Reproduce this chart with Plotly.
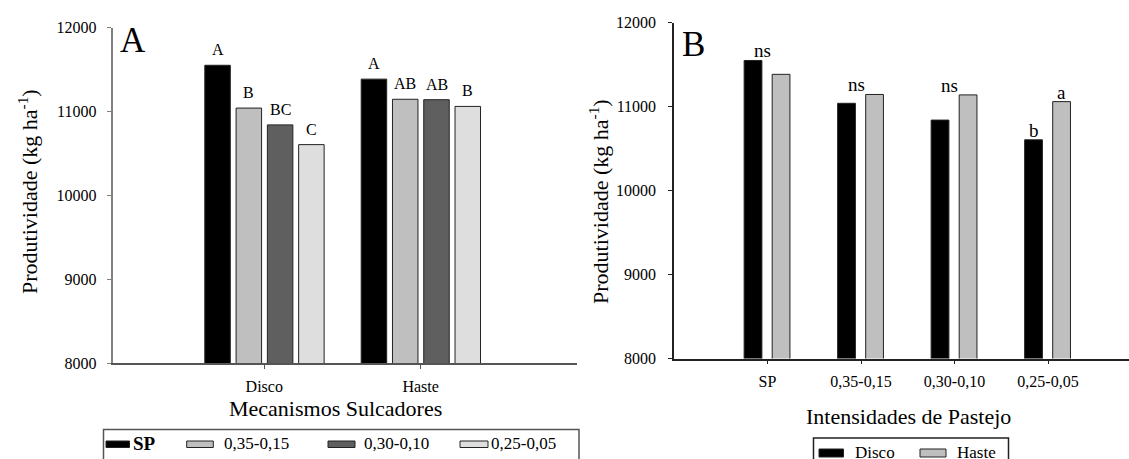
import plotly.graph_objects as go

# ---------------- data ----------------
mechanisms = ["Disco", "Haste"]
intensities = ["SP", "0,35-0,15", "0,30-0,10", "0,25-0,05"]

# yield (kg/ha) per mechanism, ordered by intensity
disco_vals = [11550, 11040, 10840, 10605]
haste_vals = [11385, 11145, 11140, 11060]

# panel A letters (per mechanism, per intensity)
letters_disco = ["A", "B", "BC", "C"]
letters_haste = ["A", "AB", "AB", "B"]

# panel B letters
ns_labels = ["ns", "ns", "ns", ""]
letters_b_disco = ["", "", "", "b"]
letters_b_haste = ["", "", "", "a"]

y_ticks = [8000, 9000, 10000, 11000, 12000]

# ---------------- style ----------------
W, H = 1129, 459
FONT = "Liberation Serif, Times New Roman, serif"
int_colors = ["#000000", "#bfbfbf", "#5f5f5f", "#dedede"]
mech_colors = ["#000000", "#bfbfbf"]
OUTLINE = "#222222"


def px(xp):
    return xp / W


def py(yp):
    return 1 - yp / H


def paper_text(x, y, text, size, **kw):
    d = dict(x=px(x), y=py(y), xref="paper", yref="paper", text=text,
             showarrow=False, xanchor="center", yanchor="middle",
             font=dict(family=FONT, size=size, color="black"))
    d.update(kw)
    return d


fig = go.Figure()

# ---- panel A: x = mechanism, series = intensity ----
a_width = 0.163
a_offsets = [-0.38, -0.18, 0.02, 0.22]
by_intensity = [[disco_vals[i], haste_vals[i]] for i in range(len(intensities))]
for i, name in enumerate(intensities):
    fig.add_trace(go.Bar(
        x=mechanisms, y=by_intensity[i], name=name,
        marker=dict(color=int_colors[i], line=dict(color=OUTLINE, width=1)),
        width=a_width, offset=a_offsets[i],
        xaxis="x", yaxis="y", showlegend=False))

# ---- panel B: x = intensity, series = mechanism ----
b_width = 0.19
b_offsets = [-0.25, 0.05]
for j, (name, vals) in enumerate(zip(mechanisms, [disco_vals, haste_vals])):
    fig.add_trace(go.Bar(
        x=intensities, y=vals, name=name,
        marker=dict(color=mech_colors[j], line=dict(color=OUTLINE, width=1)),
        width=b_width, offset=b_offsets[j],
        xaxis="x2", yaxis="y2", showlegend=False))

annotations = []
# letters panel A
letter_sets = [letters_disco, letters_haste]
for m, mech in enumerate(mechanisms):
    for i in range(len(intensities)):
        val = by_intensity[i][m]
        annotations.append(dict(
            x=m + a_offsets[i] + a_width / 2, y=val, xref="x", yref="y",
            text=letter_sets[m][i], showarrow=False, xanchor="center", yanchor="bottom",
            yshift=5, font=dict(family=FONT, size=16, color="black")))

# letters panel B
for k in range(len(intensities)):
    if ns_labels[k]:
        annotations.append(dict(
            x=k - 0.05, y=max(disco_vals[k], haste_vals[k]), xref="x2", yref="y2",
            text=ns_labels[k], showarrow=False, xanchor="center", yanchor="bottom", yshift=-3,
            font=dict(family=FONT, size=19, color="black")))
    for j, (labs, vals) in enumerate([(letters_b_disco, disco_vals), (letters_b_haste, haste_vals)]):
        if labs[k]:
            annotations.append(dict(
                x=k + b_offsets[j] + b_width / 2, y=vals[k], xref="x2", yref="y2",
                text=labs[k], showarrow=False, xanchor="center", yanchor="bottom", yshift=-3,
                font=dict(family=FONT, size=19, color="black")))

# panel letters
annotations.append(paper_text(133, 40, "A", 35))
annotations.append(paper_text(693, 45, "B", 35))

# axis titles
ytitle = "Produtividade (kg ha<sup>-1</sup>)"
annotations.append(paper_text(28, 192, ytitle, 22, textangle=-90))
annotations.append(paper_text(599, 202, ytitle, 22, textangle=-90))
annotations.append(paper_text(335, 408, "Mecanismos Sulcadores", 22))
annotations.append(paper_text(908, 416, "Intensidades de Pastejo", 22))

shapes = []
# ---- manual legend A ----
shapes.append(dict(type="rect", xref="paper", yref="paper",
                   x0=px(103.5), x1=px(579), y0=py(429.5), y1=py(475),
                   line=dict(color="#555555", width=1.5), fillcolor="rgba(0,0,0,0)"))
legA_sw = [(106, 129.5), (186.7, 213.3), (328, 355), (460, 488)]
legA_tx = [131, 222, 362, 489]
for i, name in enumerate(intensities):
    x0, x1 = legA_sw[i]
    shapes.append(dict(type="rect", xref="paper", yref="paper",
                       x0=px(x0), x1=px(x1), y0=py(441), y1=py(447.5),
                       fillcolor=int_colors[i], line=dict(color=OUTLINE, width=1)))
    label = "<b>%s</b>" % name if name == "SP" else name
    annotations.append(paper_text(legA_tx[i], 443.5, label, 19 if name == "SP" else 17,
                                  xanchor="left"))

# ---- manual legend B ----
shapes.append(dict(type="rect", xref="paper", yref="paper",
                   x0=px(813.5), x1=px(1008.5), y0=py(438), y1=py(475),
                   line=dict(color="#222222", width=1.5), fillcolor="rgba(0,0,0,0)"))
legB_sw = [(819, 843.5), (920, 946)]
legB_tx = [853, 955]
for j, name in enumerate(mechanisms):
    x0, x1 = legB_sw[j]
    shapes.append(dict(type="rect", xref="paper", yref="paper",
                       x0=px(x0), x1=px(x1), y0=py(449), y1=py(457),
                       fillcolor=mech_colors[j], line=dict(color=OUTLINE, width=1)))
    annotations.append(paper_text(legB_tx[j], 452, name, 17, xanchor="left"))

tickfont = dict(family=FONT, size=16, color="black")

fig.update_layout(
    width=W, height=H,
    margin=dict(l=0, r=0, t=0, b=0, autoexpand=False),
    paper_bgcolor="white", plot_bgcolor="white",
    barmode="overlay",
    font=dict(family=FONT, color="black"),
    xaxis=dict(domain=[px(112.7), px(576.7)], anchor="y", type="category",
               categoryorder="array", categoryarray=mechanisms,
               range=[-0.969, 1.998], showgrid=False, zeroline=False,
               showline=True, linecolor="#555555", linewidth=1.5,
               ticks="outside", ticklen=4, tickcolor="#555555",
               tickfont=tickfont, ticklabelstandoff=4),
    yaxis=dict(domain=[py(363.3), py(27.5)], anchor="x", range=[8000, 12000],
               tickvals=y_ticks, tickformat="d", showgrid=False, zeroline=False,
               showline=True, linecolor="#808080", linewidth=2,
               ticks="outside", ticklen=4, tickcolor="#808080",
               tickfont=tickfont, ticklabelstandoff=7),
    xaxis2=dict(domain=[px(674), 1.0], anchor="y2", type="category",
                categoryorder="array", categoryarray=intensities,
                range=[-1.0, 3.866], showgrid=False, zeroline=False,
                showline=True, linecolor="#222222", linewidth=1.5,
                ticks="outside", ticklen=4, tickcolor="#222222",
                tickfont=tickfont, ticklabelstandoff=4),
    yaxis2=dict(domain=[py(358.5), py(22.7)], anchor="x2", range=[8000, 12000],
                tickvals=y_ticks, tickformat="d", showgrid=False, zeroline=False,
                showline=True, linecolor="#222222", linewidth=1.5,
                ticks="outside", ticklen=4, tickcolor="#222222",
                tickfont=tickfont, ticklabelstandoff=9),
    annotations=annotations,
    shapes=shapes,
)

fig.write_html(
    "out.html",
    config={"displayModeBar": False},
    post_script="document.body.style.margin='0px';document.body.style.overflow='hidden';",
)
